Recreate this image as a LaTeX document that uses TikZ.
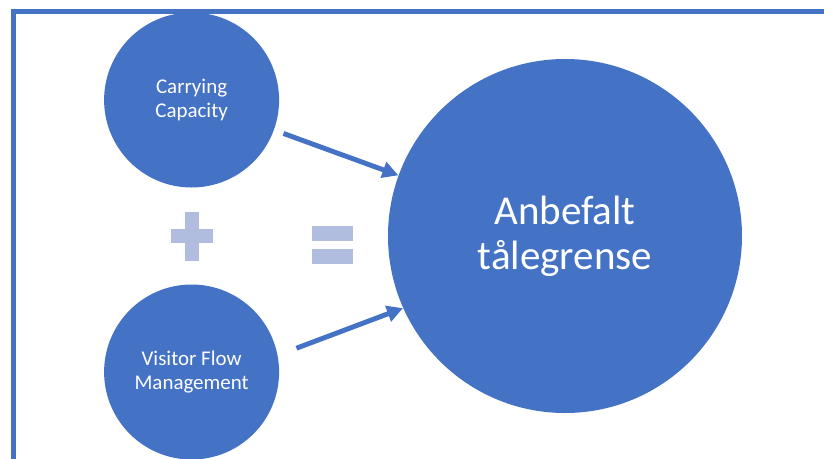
\documentclass[tikz,border=0pt]{standalone}
\usepackage{fontspec}
\setmainfont{Carlito}
\usepackage{tikz}
\usetikzlibrary{arrows.meta,positioning}
\definecolor{ppblue}{RGB}{68,114,196}
\definecolor{pplight}{RGB}{176,189,223}
\tikzset{
  bubble/.style={circle, fill=ppblue, text=white, inner sep=0pt, align=center,
                 minimum size=#1},
  flowarrow/.style={ppblue, line width=3.5pt,
                    -{Triangle[length=0.4cm, width=0.4cm]}},
}

\begin{document}
\begin{tikzpicture}
\useasboundingbox (0,0) rectangle (20.6,-11.45);

% frame along the top and left edge
\draw[ppblue, line width=3.5pt] (0.3375,-11.8) -- (0.3375,-0.2875) -- (21,-0.2875);

% --- the two inputs ---
\node[bubble=4.375cm, font=\fontsize{14.9}{17.1}\selectfont]
      (cc-circle) at (4.79,-2.5) {Carrying\\Capacity};
\node[bubble=4.375cm, font=\fontsize{14.9}{17.1}\selectfont]
      (vfm-circle) at (4.79,-9.3) {Visitor Flow\\Management};

% --- the result ---
\node[bubble=8.85cm, font=\fontsize{29.2}{32}\selectfont]
      (limit-circle) at (14.125,-5.9) {Anbefalt\\tålegrense};

% plus sign
\fill[pplight] (4.625,-5.31) rectangle (4.975,-6.52);
\fill[pplight] (4.27,-5.73) rectangle (5.33,-6.08);

% equals sign
\fill[pplight] (7.79,-5.64) rectangle (8.83,-6.03);
\fill[pplight] (7.79,-6.225) rectangle (8.83,-6.61);

% arrows into the result
\draw[flowarrow, shorten <=0.25cm] (cc-circle) -- (limit-circle);
\draw[flowarrow, shorten <=0.5cm] (vfm-circle.11) -- (limit-circle.204);

\end{tikzpicture}
\end{document}
